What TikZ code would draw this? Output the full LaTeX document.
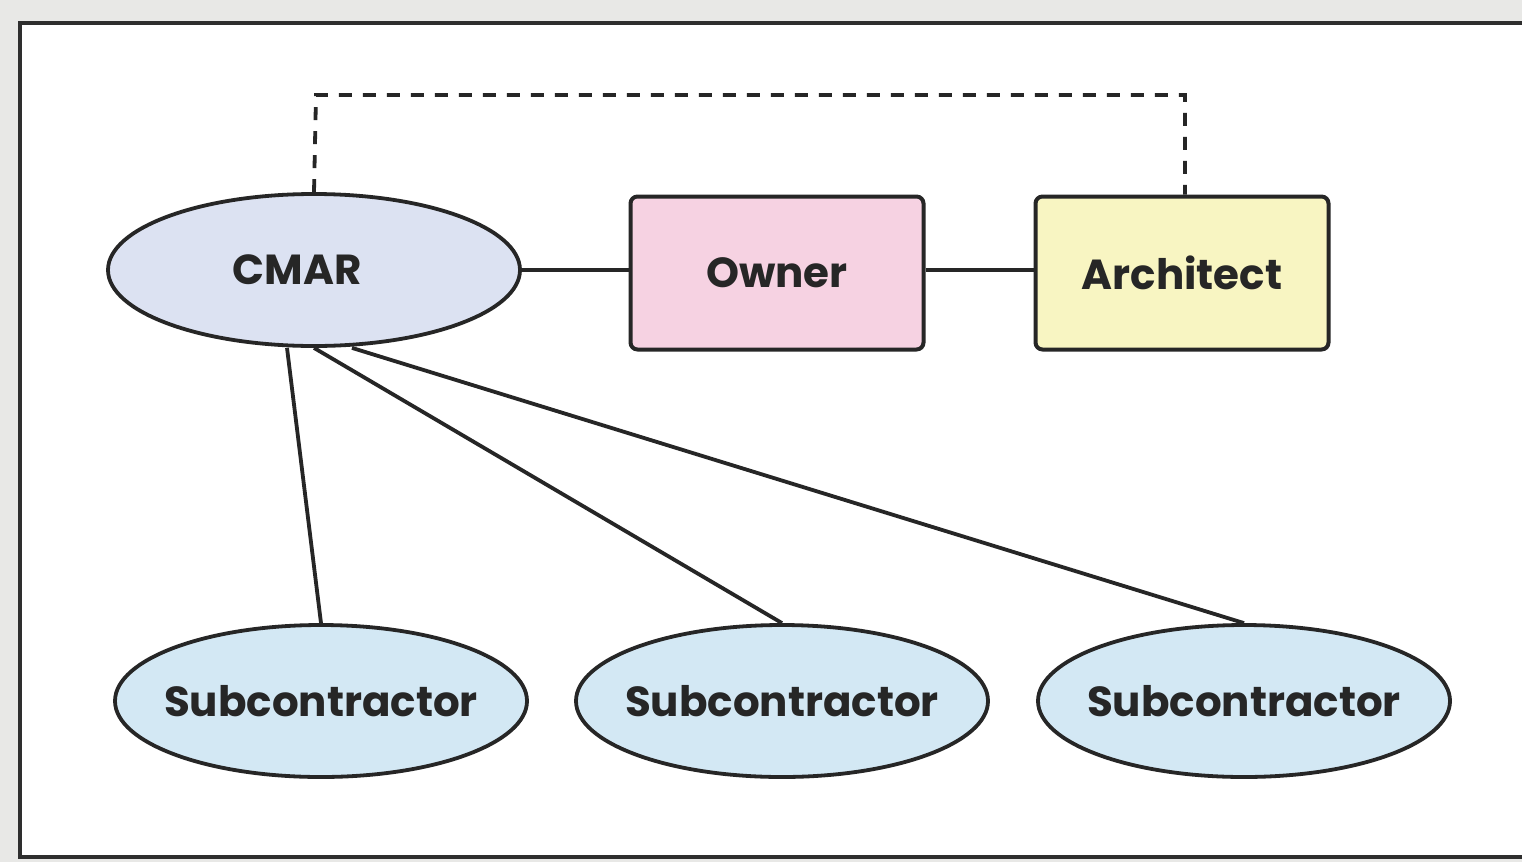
\documentclass[tikz,border=0pt]{standalone}
\usepackage{fontspec}
\setmainfont{Poppins}
\usetikzlibrary{shapes.geometric}
\definecolor{outergray}{HTML}{E8E8E6}
\definecolor{framecol}{HTML}{2E2E2E}
\definecolor{cmarfill}{HTML}{DCE2F2}
\definecolor{ownerfill}{HTML}{F6D2E2}
\definecolor{archfill}{HTML}{F8F5C2}
\definecolor{subfill}{HTML}{D3E8F4}
\definecolor{linecol}{HTML}{262626}
\newcommand{\zw}[1]{\makebox[0pt]{#1}}
\tikzset{
  lbl/.style={font=\fontsize{42}{46}\selectfont\bfseries, text=linecol},
  ell/.style={ellipse, draw=linecol, line width=3.8pt, inner sep=0pt, minimum width=412pt, minimum height=152pt, lbl},
  boxnode/.style={rectangle, rounded corners=7pt, draw=linecol, line width=4pt, inner sep=0pt, minimum width=293pt, minimum height=153pt, lbl},
  conn/.style={draw=linecol, line width=3.8pt},
  dashconn/.style={draw=linecol, line width=3.8pt, dash pattern=on 13pt off 11pt}
}
\begin{document}
\begin{tikzpicture}[x=1pt,y=-1pt]
\useasboundingbox (0,0) rectangle (1522,862);
\fill[outergray] (0,0) rectangle (1522,862);
\fill[white] (20,23) rectangle (1530,857);
\draw[framecol, line width=4pt] (1540,23) -- (20,23) -- (20,857) -- (1540,857);
\node[ell, fill=cmarfill] (cmar) at (314,270) {\zw{CMAR\hspace*{34pt}}};
\node[boxnode, fill=ownerfill] (owner) at (777,273) {Owner};
\node[boxnode, fill=archfill] (arch) at (1182,273) {Architect};
\node[ell, fill=subfill] (s1) at (321,701) {\zw{Subcontractor}};
\node[ell, fill=subfill] (s2) at (782,701) {\zw{Subcontractor}};
\node[ell, fill=subfill] (s3) at (1244,701) {\zw{Subcontractor}};
\coordinate (dl) at (316,95);
\coordinate (dr) at (1185,95);
\draw[dashconn] (cmar.north) -- (dl) -- (dr) -- (arch.north -| dr);
\draw[conn] (cmar.east) -- (owner.west |- cmar.east);
\draw[conn] (owner.east |- cmar.east) -- (arch.west |- cmar.east);
\draw[conn] ([xshift=-27pt]cmar.south) -- (s1.north);
\draw[conn] (cmar.south) -- (s2.north);
\draw[conn] ([xshift=38pt]cmar.south) -- (s3.north);
\end{tikzpicture}
\end{document}
